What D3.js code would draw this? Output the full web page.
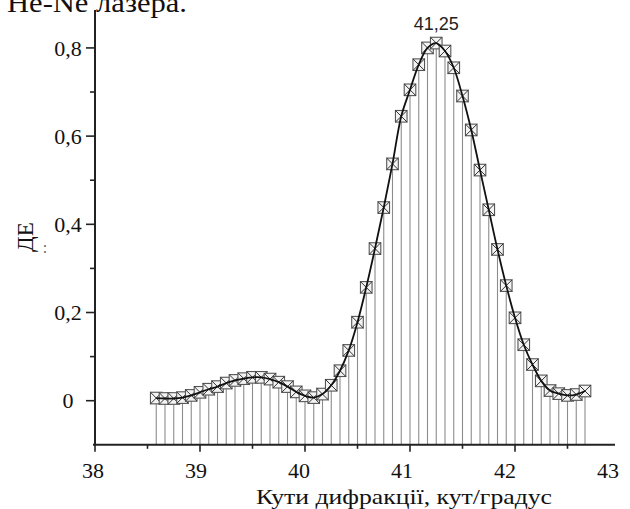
<!DOCTYPE html>
<html><head><meta charset="utf-8">
<script src="https://cdn.jsdelivr.net/npm/d3@7"></script>
<style>html,body{margin:0;padding:0;background:#fff;}svg{display:block;}</style>
</head><body>
<script>
// ---- data ----
const xStart = 38 + 35/60;       // 38°35'
const xStep = 1/12;              // 5 arc-minutes
const deValues = [0.006,0.005,0.005,0.007,0.012,0.019,0.026,0.032,0.040,0.046,
  0.050,0.053,0.053,0.049,0.042,0.032,0.020,0.011,0.007,0.015,
  0.035,0.068,0.114,0.178,0.257,0.345,0.438,0.537,0.645,0.705,
  0.762,0.800,0.811,0.793,0.755,0.691,0.614,0.523,0.433,0.343,
  0.261,0.188,0.127,0.082,0.045,0.023,0.016,0.012,0.014,0.022];
const angles = deValues.map((d,i)=> xStart + i*xStep);
const xTickLabels = ["38","39","40","41","42","43"];
const yTickLabels = ["0","0,2","0,4","0,6","0,8"];
const yTickValues = [0,0.2,0.4,0.6,0.8];
const peakLabel = "41,25";
const xTitle = "Кути дифракції, кут/градус";
const yTitle = "ДЕ";
const topText = "Не-Ne лазера.";

const W=630,H=509;
const svg=d3.select("body").append("svg").attr("width",W).attr("height",H);
const x=d3.scaleLinear().domain([38,43]).range([95,620]);
const xLab=d3.scaleLinear().domain([38,43]).range([93,608]);
const y=d3.scaleLinear().domain([-0.1,0.886]).range([444.8,10]);
const serif="'Liberation Serif','Times New Roman',serif";
const data=angles.map((a,i)=>({a,v:deValues[i]}));

// top clipped text (cut by the page edge as in the source)
svg.append("text").attr("x",7).attr("y",12).attr("font-family",serif).attr("font-size",28)
  .attr("textLength",180).attr("lengthAdjust","spacingAndGlyphs").attr("fill","#111").text(topText);

// drop lines
svg.append("g").selectAll("line").data(data).join("line")
  .attr("x1",d=>x(d.a)).attr("x2",d=>x(d.a))
  .attr("y1",d=>y(d.v)).attr("y2",y(-0.1))
  .attr("stroke","#8c8c8c").attr("stroke-width",1.1);

// axes
const axisG=svg.append("g").attr("stroke","#222");
axisG.append("line").attr("x1",x(38)).attr("x2",x(38)).attr("y1",y(0.886)).attr("y2",y(-0.1)+1).attr("stroke-width",2);
axisG.append("line").attr("x1",x(38)-2).attr("x2",615).attr("y1",y(-0.1)).attr("y2",y(-0.1)).attr("stroke-width",2);
const yMinor=d3.range(0,9).map(i=>i/10);
axisG.selectAll(".yt").data(yMinor).join("line")
  .attr("x1",(d,i)=>x(38)-(i%2===0?9:5)).attr("x2",x(38))
  .attr("y1",d=>y(d)).attr("y2",d=>y(d)).attr("stroke-width",1.6);
const xMinor=d3.range(0,10).map(i=>38+i*0.5);
axisG.selectAll(".xt").data(xMinor).join("line")
  .attr("x1",d=>x(d)).attr("x2",d=>x(d))
  .attr("y1",y(-0.1)).attr("y2",(d,i)=>y(-0.1)+(i%2===0?7:4)).attr("stroke-width",1.6);

// tick labels
svg.append("g").selectAll("text").data(yTickValues).join("text")
  .attr("x",68).attr("y",d=>y(d)).attr("dy","0.35em").attr("text-anchor","middle")
  .attr("font-family",serif).attr("font-size",22).attr("fill","#111")
  .text((d,i)=>yTickLabels[i]);
svg.append("g").selectAll("text").data(xTickLabels).join("text")
  .attr("x",d=>xLab(+d)).attr("y",478).attr("text-anchor","middle")
  .attr("font-family",serif).attr("font-size",22).attr("fill","#111").text(d=>d);

// titles
svg.append("text").attr("x",404).attr("y",504).attr("text-anchor","middle")
  .attr("font-family",serif).attr("font-size",21).attr("textLength",296).attr("lengthAdjust","spacingAndGlyphs")
  .attr("fill","#111").text(xTitle);
svg.append("text").attr("transform","translate(33,237) rotate(-90)").attr("text-anchor","middle")
  .attr("font-family",serif).attr("font-size",23).attr("fill","#111").text(yTitle);
svg.append("text").attr("x",45).attr("y",253).attr("text-anchor","middle")
  .attr("font-family",serif).attr("font-size",16).attr("fill","#666").text(":");

// markers
const s=5.8;
const mk=svg.append("g").selectAll("g").data(data).join("g")
  .attr("transform",d=>`translate(${x(d.a)},${y(d.v)})`);
mk.append("rect").attr("x",-s).attr("y",-s).attr("width",2*s).attr("height",2*s)
  .attr("fill","#f3f3f3").attr("stroke","#555").attr("stroke-width",1.1);
mk.append("path").attr("d",`M${-s},${-s}L${s},${s}M${-s},${s}L${s},${-s}`)
  .attr("stroke","#333").attr("stroke-width",1);

// fit curve
svg.append("path").datum(data)
  .attr("d",d3.line().x(d=>x(d.a)).y(d=>y(d.v)).curve(d3.curveCatmullRom.alpha(0.5)))
  .attr("fill","none").attr("stroke","#111").attr("stroke-width",1.8);

// peak label
const pk=data[d3.maxIndex(data,d=>d.v)];
svg.append("text").attr("x",x(pk.a)).attr("y",y(pk.v)-13).attr("text-anchor","middle")
  .attr("font-family","'Liberation Sans',Arial,sans-serif").attr("font-size",18).attr("fill","#222").text(peakLabel);
</script>
</body></html>
